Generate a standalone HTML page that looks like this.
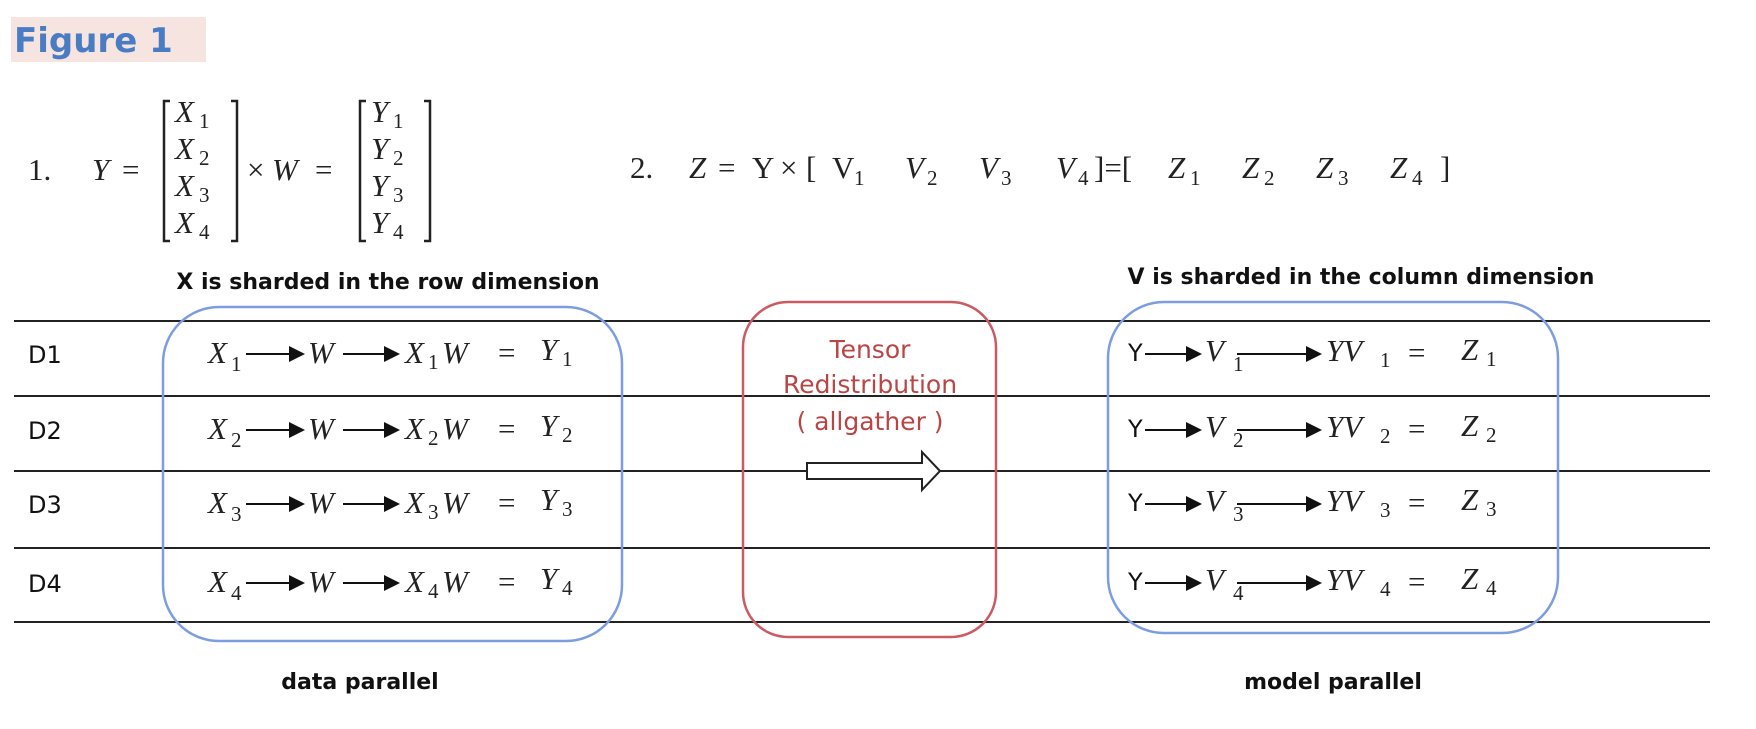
<!DOCTYPE html>
<html><head><meta charset="utf-8"><style>
html,body{margin:0;padding:0;background:#fff;}
svg{display:block;}
.s{font-family:"Liberation Serif",serif;font-style:italic;font-size:31px;fill:#222;}
.n{font-family:"Liberation Serif",serif;font-size:31px;fill:#222;}
.sub{font-family:"Liberation Serif",serif;font-size:21px;fill:#222;}
.b{font-family:"DejaVu Sans","Liberation Sans",sans-serif;font-weight:bold;font-size:22px;fill:#111;}
.d{font-family:"DejaVu Sans","Liberation Sans",sans-serif;font-size:24px;fill:#111;}
.r{font-family:"DejaVu Sans","Liberation Sans",sans-serif;font-size:25px;fill:#b94545;}
</style></head><body>
<svg width="1756" height="729" viewBox="0 0 1756 729" xmlns="http://www.w3.org/2000/svg">
<defs><marker id="ah" markerWidth="8" markerHeight="8" refX="7" refY="4" orient="auto"><path d="M0,0 L8,4 L0,8 z" fill="#111"/></marker></defs>
<g>
<rect x="11" y="17" width="195" height="45" fill="#f6e4e0"/>
<text x="14" y="52" font-family="DejaVu Sans,Liberation Sans,sans-serif" font-weight="bold" font-size="34" fill="#4a7cc4">Figure 1</text>
</g>
<g>
<text class="n" x="28" y="180">1.</text>
<text class="s" x="92" y="180">Y</text><text class="n" x="122" y="180">=</text>
<path d="M170,101 h-6 v140 h6 M231,101 h6 v140 h-6" stroke="#222" stroke-width="2.5" fill="none"/>
<g id="mx"></g>
<text class="n" x="247" y="180">×</text><text class="s" x="272" y="180">W</text><text class="n" x="315" y="180">=</text>
<path d="M366,101 h-6 v140 h6 M424,101 h6 v140 h-6" stroke="#222" stroke-width="2.5" fill="none"/>
</g>
<g id="eq2"></g>
<text class="b" x="388" y="289" text-anchor="middle">X is sharded in the row dimension</text>
<text class="b" x="1361" y="284" text-anchor="middle">V is sharded in the column dimension</text>
<g id="lines" stroke="#222" stroke-width="2"></g>
<rect x="163" y="307" width="459" height="334" rx="56" fill="none" stroke="#7d9de0" stroke-width="2.5"/>
<rect x="743" y="302" width="253" height="335" rx="45" fill="none" stroke="#cc5a63" stroke-width="2.5"/>
<rect x="1108" y="302" width="450" height="331" rx="56" fill="none" stroke="#7d9de0" stroke-width="2.5"/>
<g>
<text class="r" x="870" y="358" text-anchor="middle">Tensor</text>
<text class="r" x="870" y="393" text-anchor="middle">Redistribution</text>
<text class="r" x="870" y="430" text-anchor="middle">( allgather )</text>
</g>
<path d="M807,463 h115 v-11 l18,19 l-18,19 v-11 h-115 z" fill="#fff" stroke="#222" stroke-width="2"/>
<g id="rows"></g>
<text class="b" x="360" y="689" text-anchor="middle">data parallel</text>
<text class="b" x="1333" y="689" text-anchor="middle">model parallel</text>
</svg>
<script>
const devices=["D1","D2","D3","D4"];
const idx=["1","2","3","4"];
const NS="http://www.w3.org/2000/svg";
function t(p,cls,x,y,s){const e=document.createElementNS(NS,'text');e.setAttribute('class',cls);e.setAttribute('x',x);e.setAttribute('y',y);e.textContent=s;p.appendChild(e);return e;}
function ar(p,x1,x2,y){const l=document.createElementNS(NS,'line');l.setAttribute('x1',x1);l.setAttribute('x2',x2);l.setAttribute('y1',y);l.setAttribute('y2',y);l.setAttribute('stroke','#111');l.setAttribute('stroke-width','2');l.setAttribute('marker-end','url(#ah)');p.appendChild(l);}
const mx=document.getElementById('mx');
idx.forEach((k,i)=>{const y=122+i*37;t(mx,'s',175,y,'X');t(mx,'sub',199,y+6,k);t(mx,'s',371,y,'Y');t(mx,'sub',393,y+6,k);});
const e2=document.getElementById('eq2');
const ey=178;
t(e2,'n',630,ey,'2.');t(e2,'s',689,ey,'Z');t(e2,'n',718,ey,'=');t(e2,'n',752,ey,'Y');t(e2,'n',780,ey,'×');t(e2,'n',806,ey,'[');
const vx=[832,905,979,1056];
idx.forEach((k,i)=>{t(e2,i==0?'n':'s',vx[i],ey,'V');t(e2,'sub',vx[i]+22,ey+7,k);});
t(e2,'n',1094,ey,']=[');
const zx=[1168,1242,1316,1390];
idx.forEach((k,i)=>{t(e2,'s',zx[i],ey,'Z');t(e2,'sub',zx[i]+22,ey+7,k);});
t(e2,'n',1440,ey,']');
const lines=document.getElementById('lines');
[321,396,471,548,622].forEach(y=>{const l=document.createElementNS(NS,'line');l.setAttribute('x1',14);l.setAttribute('x2',1710);l.setAttribute('y1',y);l.setAttribute('y2',y);lines.appendChild(l);});
const rows=document.getElementById('rows');
const rowC=[353,429,503,582];
devices.forEach((d,i)=>{
 const g=document.createElementNS(NS,'g');
 
 
 rows.appendChild(g);
 const y=rowC[i]+10;
 t(g,'d',28,y,d);
 t(g,'s',208,y,'X');t(g,'sub',231,y+8,idx[i]);ar(g,246,303,y-9);
 t(g,'s',308,y,'W');ar(g,343,398,y-9);
 t(g,'s',405,y,'X');t(g,'sub',428,y+6,idx[i]);t(g,'s',442,y,'W');t(g,'n',498,y,'=');
 t(g,'s',540,y-3,'Y');t(g,'sub',562,y+3,idx[i]);
 t(g,'d',1128,y-2,'Y');ar(g,1145,1200,y-9);
 t(g,'s',1205,y-2,'V');t(g,'sub',1233,y+8,idx[i]);ar(g,1237,1320,y-9);
 t(g,'s',1326,y-2,'YV');t(g,'sub',1380,y+4,idx[i]);t(g,'n',1408,y,'=');
 t(g,'s',1461,y-3,'Z');t(g,'sub',1486,y+3,idx[i]);
});
</script>
</body></html>
